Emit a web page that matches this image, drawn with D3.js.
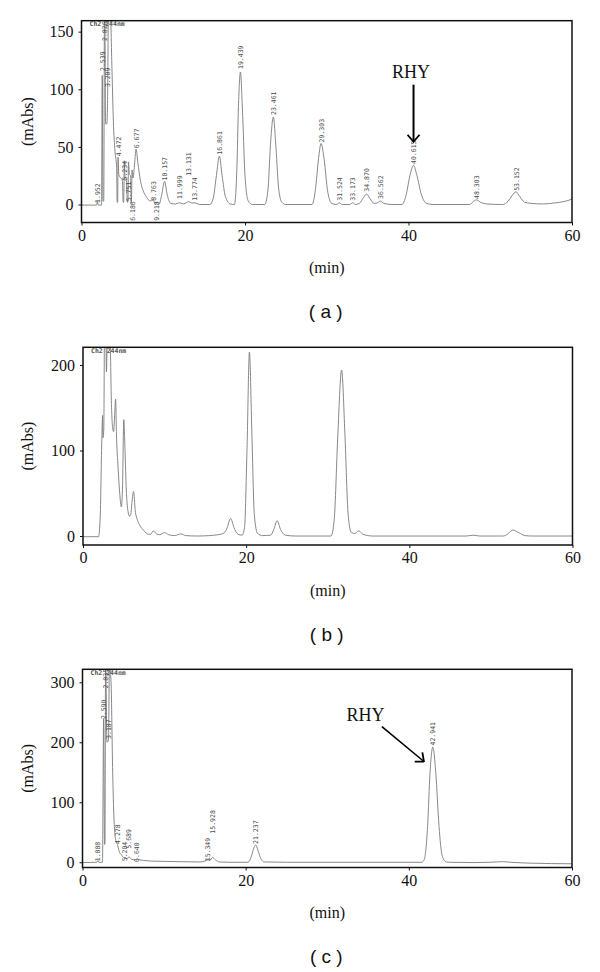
<!DOCTYPE html>
<html>
<head>
<meta charset="utf-8">
<script src="https://cdn.jsdelivr.net/npm/d3@7"></script>
<style>
  html, body { margin: 0; padding: 0; background: #fff; }
  svg { display: block; }
  .serif { font-family: "Liberation Serif", "DejaVu Serif", serif; }
  .mono { font-family: "DejaVu Sans Mono", "Liberation Mono", monospace; }
  .sans { font-family: "Liberation Sans", Arial, sans-serif; }
</style>
</head>
<body>
<svg id="chart" width="600" height="972"></svg>
<script>
// ---------------- DATA ----------------
const timeTicks = [0, 20, 40, 60];
const yTicksA = [0, 50, 100, 150];
const yTicksB = [0, 100, 200];
const yTicksC = [0, 100, 200, 300];
const panelLetters = ["( a )", "( b )", "( c )"];
const detectorText = "Ch2 244nm";

// Trace (a): [time (min), signal (mAbs)]
const traceA = [
  [0,-0.5],[1.85,-0.5],[1.952,3],[2.05,-0.5],[2.45,-0.5],[2.539,112],[2.62,3],[2.72,3],[2.826,200],[2.95,70],
  [3.1,70],[3.209,101],[3.3,180],[3.5,178],[3.7,125],[3.9,72],[4.1,46],[4.3,32],[4.36,2],[4.42,2],
  [4.472,41],[4.56,26],[4.8,23],[5.0,21],[5.1,2],[5.16,2],[5.234,38],[5.35,21],[5.5,22],[5.6,2],
  [5.68,2],[5.751,37],[5.86,26],[6.0,25],[6.1,1],[6.186,30],[6.3,23],[6.45,32],[6.677,48],[6.9,36],
  [7.2,21],[7.6,11],[8.0,6],[8.4,3],[8.763,4],[9.0,1],[9.218,2],[9.5,0.5],[9.8,8],[10.157,20],
  [10.5,8],[10.9,1],[11.5,0.5],[11.999,1.5],[12.5,0.5],[13.131,2.5],[13.5,1.2],[13.774,1.5],[14.5,0],[15.7,0],
  [16.1,5],[16.5,25],[16.861,42],[17.2,25],[17.6,7],[18.2,0.5],[18.7,0],[19.0,30],[19.2,85],[19.439,115],
  [19.7,80],[20.0,25],[20.4,3],[20.9,0],[22.4,0],[22.8,12],[23.1,50],[23.461,76],[23.8,48],[24.1,15],
  [24.5,2],[25,0],[28.2,0],[28.6,12],[29.0,40],[29.303,53],[29.7,38],[30.1,12],[30.6,1],[31.2,0],
  [31.524,1.5],[31.9,0],[32.8,0],[33.173,1.5],[33.5,0],[34.0,1],[34.5,6],[34.87,9],[35.3,5],[35.8,1],
  [36.2,1.5],[36.562,3],[37,1],[38,0],[39.2,0],[39.7,8],[40.2,26],[40.615,34],[41.0,26],[41.6,8],
  [42.2,1],[43,0],[47.5,0],[47.9,2.5],[48.303,4],[48.8,2],[49.5,0.5],[51.5,0],[52.2,3],[52.7,8],
  [53.152,11],[53.6,7],[54.2,2],[55,1],[56.5,0.5],[58,1.5],[59,2.5],[60,4.7]
];
const peakLabelsA = ["1.952","2.539","2.826","3.209","4.472","5.234","5.751","6.186","6.677","8.763","9.218","10.157","11.999","13.131","13.774","16.861","19.439","23.461","29.303","31.524","33.173","34.870","36.562","40.615","48.303","53.152"];
const peakTimesA = [1.952,2.539,2.826,3.209,4.472,5.234,5.751,6.186,6.677,8.763,9.218,10.157,11.999,13.131,13.774,16.861,19.439,23.461,29.303,31.524,33.173,34.870,36.562,40.615,48.303,53.152];
const labelBaseA = [0.5,115,141,101,41,20,2,-15,48,2.4,-15,20,4,24,2.4,42.4,116.7,76.8,53,2.4,2.4,10.3,4,34.3,4,11];

// Trace (b)
const traceB = [
  [0,-0.8],[1.9,-0.8],[2.1,20],[2.3,110],[2.4,141],[2.45,115],[2.55,125],[2.65,260],[2.8,240],[2.87,192],
  [2.95,220],[3.1,260],[3.3,240],[3.5,150],[3.6,130],[3.75,122],[3.85,135],[4.0,160],[4.1,120],[4.3,80],
  [4.5,50],[4.7,34],[4.85,60],[5.0,136],[5.15,100],[5.3,55],[5.5,30],[5.7,23],[5.85,25],[6.0,40],
  [6.2,52],[6.4,30],[6.7,18],[7.0,12],[7.5,6],[8.0,2],[8.3,2],[8.6,6],[9.0,2.5],[9.4,1.5],
  [10.0,4],[10.5,1.5],[11.2,0.5],[12.0,2.5],[12.6,0.5],[14,0],[15.5,0.5],[16.5,1.5],[17.2,3],[17.6,8],
  [18.1,20.5],[18.5,10],[19.0,2],[19.5,1],[19.8,10],[20.1,100],[20.4,215],[20.7,120],[21.0,25],[21.4,3],
  [22,0.5],[23.0,1],[23.4,8],[23.8,18],[24.2,8],[24.8,1],[26,0],[30.4,0],[30.8,20],[31.2,110],
  [31.7,194],[32.1,120],[32.5,25],[32.9,4],[33.3,3],[33.8,6],[34.3,2],[35.5,0],[47,0],[47.8,1],
  [48.6,0],[51.5,0],[52.0,2],[52.7,7],[53.4,4],[54.2,0.5],[55,0],[60,0]
];

// Trace (c)
const traceC = [
  [0,-0.5],[1.75,0],[1.888,3],[2.0,0],[2.45,0],[2.59,240],[2.7,30],[2.75,30],[2.835,340],[3.0,200],
  [3.187,204],[3.3,330],[3.5,300],[3.7,150],[3.9,60],[4.1,35],[4.278,30],[4.5,18],[4.8,12],[5.0,8],
  [5.204,8],[5.45,6],[5.689,9],[6.0,5],[6.4,4],[6.64,5],[7.0,4],[7.5,3],[8.5,2],[10,1.5],
  [12,1],[14.5,0.5],[15.0,2],[15.349,4],[15.6,3],[15.928,8],[16.3,4],[16.8,0.5],[18,0],[20.3,0],
  [20.7,10],[21.0,24],[21.237,29],[21.5,20],[21.9,5],[22.3,0.5],[25,0],[35,0],[41.6,0],[41.9,5],
  [42.3,60],[42.6,150],[42.941,192],[43.3,150],[43.7,60],[44.1,10],[44.6,0.5],[45,0],[48,-0.5],[50,0],
  [51.5,1],[52.5,0],[55,-1.5],[60,-2.5]
];
const peakLabelsC = ["1.888","2.590","2.835","3.187","4.278","5.204","5.689","6.640","15.349","15.928","21.237","42.941"];
const peakTimesC = [1.888,2.590,2.835,3.187,4.278,5.204,5.689,6.640,15.349,15.928,21.237,42.941];
const labelBaseC = [0,237,288,204,29,0,21,-1,0,46,29,193];

// RHY annotations: [textTime, textValue, tailTime, tailValue, tipTime, tipValue]
const rhyA = [40.3, 110, 40.615, 104, 40.615, 54.5];
const rhyC = [34.7, 235, 36.7, 226, 41.85, 168];

// ---------------- DRAW ----------------
const svg = d3.select("#chart");

const defs = svg.append("defs");
defs.append("marker")
  .attr("id", "openArrow")
  .attr("viewBox", "0 0 9 14")
  .attr("refX", 8).attr("refY", 7)
  .attr("markerWidth", 9).attr("markerHeight", 14)
  .attr("markerUnits", "userSpaceOnUse")
  .attr("orient", "auto")
  .append("path")
  .attr("d", "M1,1 L8,7 L1,13")
  .attr("fill", "none").attr("stroke", "#000").attr("stroke-width", 1.8);

const panels = [
  { id: "a", left: 81.5, right: 572, top: 20.7, bottom: 222.5, yDomain: [-15.6, 159.5], yTicks: yTicksA,
    trace: traceA, labels: peakLabelsA, times: peakTimesA, bases: labelBaseA, rhy: rhyA, rhyStraight: true, letter: panelLetters[0] },
  { id: "b", left: 83, right: 572.5, top: 347.3, bottom: 545, yDomain: [-10.5, 220.7], yTicks: yTicksB,
    trace: traceB, labels: [], times: [], bases: [], rhy: null, letter: panelLetters[1] },
  { id: "c", left: 82.5, right: 572, top: 669.3, bottom: 867.5, yDomain: [-8.7, 321.7], yTicks: yTicksC,
    trace: traceC, labels: peakLabelsC, times: peakTimesC, bases: labelBaseC, rhy: rhyC, rhyStraight: false, letter: panelLetters[2] }
];

panels.forEach(p => {
  const x = d3.scaleLinear().domain([0, 60]).range([p.left, p.right]);
  const y = d3.scaleLinear().domain(p.yDomain).range([p.bottom, p.top]);
  const g = svg.append("g");

  defs.append("clipPath").attr("id", "clip-" + p.id)
    .append("rect").attr("x", p.left).attr("y", p.top)
    .attr("width", p.right - p.left).attr("height", p.bottom - p.top);

  // detector text
  g.append("text").attr("class", "mono").attr("x", p.left + 8).attr("y", p.top + 5.5)
    .style("font-size", "6.5px").style("font-weight", "bold")
    .attr("fill", "#555").text(detectorText);

  // trace
  const line = d3.line().x(d => x(d[0])).y(d => y(d[1])).curve(d3.curveMonotoneX);
  g.append("path").datum(p.trace)
    .attr("clip-path", "url(#clip-" + p.id + ")")
    .attr("d", line).attr("fill", "none")
    .attr("stroke", "#7a7a7a").attr("stroke-width", 0.9);

  // peak labels
  const lg = g.append("g").attr("clip-path", "url(#clip-" + p.id + ")");
  p.labels.forEach((lab, i) => {
    lg.append("text").attr("class", "mono")
      .attr("transform", `translate(${x(p.times[i]) + 2.5},${y(p.bases[i]) - 1}) rotate(-90)`)
      .style("font-size", "6.5px")
      .attr("fill", "#4a4a4a").text(lab);
  });

  // frame
  g.append("rect").attr("x", p.left).attr("y", p.top)
    .attr("width", p.right - p.left).attr("height", p.bottom - p.top)
    .attr("fill", "none").attr("stroke", "#111").attr("stroke-width", 1.5);

  // axes
  const yAxis = d3.axisLeft(y).tickValues(p.yTicks).tickSize(3).tickPadding(5);
  const ya = g.append("g").attr("transform", `translate(${p.left},0)`).call(yAxis);
  ya.attr("font-family", null).attr("font-size", null);
  ya.select(".domain").remove();
  ya.selectAll("text").attr("class", "serif").style("font-size", "16px").attr("fill", "#111");
  ya.selectAll("line").attr("stroke", "#111");

  const xAxis = d3.axisBottom(x).tickValues(timeTicks).tickSize(3).tickPadding(4);
  const xa = g.append("g").attr("transform", `translate(0,${p.bottom})`).call(xAxis);
  xa.attr("font-family", null).attr("font-size", null);
  xa.select(".domain").remove();
  xa.selectAll("text").attr("class", "serif").style("font-size", "16px").attr("fill", "#111");
  xa.selectAll("line").attr("stroke", "#111");

  const cx = (p.left + p.right) / 2;
  g.append("text").attr("class", "serif").attr("x", cx).attr("y", p.bottom + 50.5)
    .attr("text-anchor", "middle").style("font-size", "16px")
    .attr("fill", "#111").text("(min)");
  g.append("text").attr("class", "sans").attr("x", cx - 1).attr("y", p.bottom + 95.5)
    .attr("text-anchor", "middle").style("font-size", "19px").style("white-space", "pre")
    .attr("fill", "#111").text(p.letter);

  g.append("text").attr("class", "serif")
    .attr("transform", `translate(33,${(p.top + p.bottom) / 2}) rotate(-90)`)
    .attr("text-anchor", "middle").style("font-size", "16px")
    .attr("fill", "#111").text("(mAbs)");

  if (p.rhy) {
    const r = p.rhy;
    g.append("text").attr("class", "serif").attr("x", x(r[0])).attr("y", y(r[1]))
      .attr("text-anchor", "middle").style("font-size", "18px")
      .attr("fill", "#111").text("RHY");
    g.append("line")
      .attr("x1", x(r[2])).attr("y1", y(r[3]))
      .attr("x2", x(r[4])).attr("y2", y(r[5]))
      .attr("stroke", "#000").attr("stroke-width", p.rhyStraight ? 2 : 1.6)
      .attr("marker-end", "url(#openArrow)");
  }
});
</script>
</body>
</html>
